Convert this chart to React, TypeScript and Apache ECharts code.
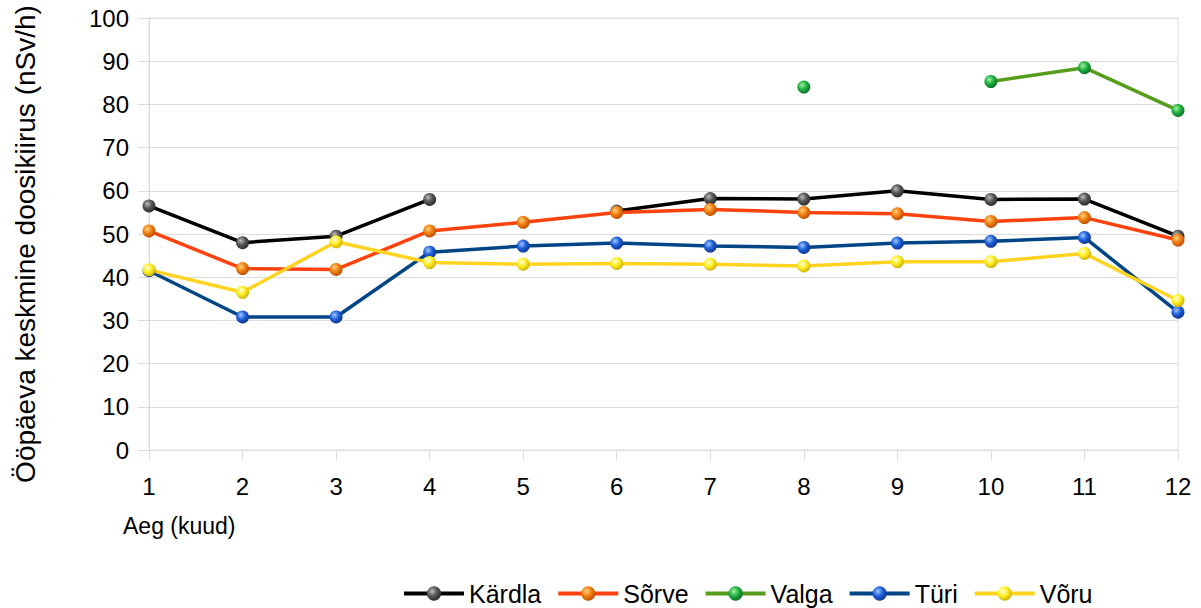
import React, { useEffect, useRef } from "react";
import * as echarts from "echarts";

const months = ["1", "2", "3", "4", "5", "6", "7", "8", "9", "10", "11", "12"];
const kardla = [56.5, 48, 49.5, 58, null, 55.3, 58.2, 58.1, 60, 58, 58.1, 49.5];
const sorve = [50.7, 42, 41.8, 50.7, 52.7, 55, 55.7, 55, 54.7, 52.9, 53.8, 48.6];
const valga = [null, null, null, null, null, null, null, 84, null, 85.3, 88.5, 78.6];
const turi = [41.5, 30.8, 30.8, 45.8, 47.2, 47.9, 47.2, 46.9, 47.9, 48.3, 49.2, 31.9];
const voru = [41.7, 36.5, 48.2, 43.4, 43.0, 43.2, 43.0, 42.6, 43.6, 43.6, 45.5, 34.6];
const yTicks = { min: 0, max: 100, interval: 10 };

const FONT = "'Liberation Sans', Arial, sans-serif";

function ball(light: string, mid: string, dark: string) {
  return {
    type: "radial",
    x: 0.38,
    y: 0.35,
    r: 0.75,
    colorStops: [
      { offset: 0, color: light },
      { offset: 0.45, color: mid },
      { offset: 1, color: dark },
    ],
  };
}

const seriesDefs = [
  { name: "Kärdla", data: kardla, line: "#000000", ball: ball("#bbbbbb", "#555555", "#222222") },
  { name: "Sõrve", data: sorve, line: "#ff420e", ball: ball("#ffd080", "#f08010", "#b04000") },
  { name: "Valga", data: valga, line: "#579d1c", ball: ball("#a0f0a0", "#20b040", "#0a6020") },
  { name: "Türi", data: turi, line: "#004586", ball: ball("#a0c8ff", "#2060d8", "#0a2a80") },
  { name: "Võru", data: voru, line: "#ffd320", ball: ball("#ffffe0", "#ffee20", "#c0a000") },
];

export default function App() {
  const ref = useRef<HTMLDivElement>(null);
  useEffect(() => {
    if (!ref.current) return;
    const chart = echarts.init(ref.current, null, { renderer: "svg" });
    chart.setOption({
      animation: false,
      backgroundColor: "#ffffff",
      textStyle: { fontFamily: FONT },
      grid: { left: 149, right: 23, top: 18, bottom: 158, show: true, borderColor: "#dddddd", borderWidth: 1 },
      legend: {
        left: 397,
        top: 576,
        itemWidth: 60,
        itemHeight: 18,
        itemGap: 15,
        lineStyle: { width: 4 },
        textStyle: { fontSize: 25, color: "#000", fontFamily: FONT },
        data: seriesDefs.map((s) => s.name),
      },
      xAxis: {
        type: "category",
        data: months,
        boundaryGap: false,
        axisLine: { show: true, lineStyle: { color: "#dddddd" } },
        axisTick: { show: true, length: 10, lineStyle: { color: "#dddddd" } },
        axisLabel: { fontSize: 24, color: "#000", margin: 24, fontFamily: FONT },
        splitLine: { show: false },
      },
      yAxis: {
        type: "value",
        min: yTicks.min,
        max: yTicks.max,
        interval: yTicks.interval,
        axisLine: { show: true, lineStyle: { color: "#dddddd" } },
        axisTick: { show: true, length: 11, lineStyle: { color: "#dddddd" } },
        axisLabel: { fontSize: 24, color: "#000", margin: 20, fontFamily: FONT },
        splitLine: { show: true, lineStyle: { color: "#dddddd" } },
      },
      graphic: [
        {
          type: "text",
          x: 25,
          y: 244,
          rotation: Math.PI / 2,
          style: {
            text: "Ööpäeva keskmine doosikiirus (nSv/h)",
            fontSize: 28,
            fill: "#000",
            fontFamily: FONT,
            align: "center",
            verticalAlign: "middle",
          },
        },
        {
          type: "text",
          left: 123,
          top: 514,
          style: { text: "Aeg (kuud)", fontSize: 23, fill: "#000", fontFamily: FONT },
        },
      ],
      series: seriesDefs.map((s) => ({
        name: s.name,
        type: "line",
        data: s.data,
        connectNulls: false,
        symbol: "circle",
        symbolSize: 13,
        showAllSymbol: true,
        lineStyle: { color: s.line, width: 3.5 },
        itemStyle: { color: s.ball, borderWidth: 0 },
        emphasis: { disabled: true },
      })),
    });
    return () => chart.dispose();
  }, []);
  return (
    <div
      ref={ref}
      style={{ position: "fixed", left: 0, top: 0, width: 1201, height: 608 }}
    />
  );
}
